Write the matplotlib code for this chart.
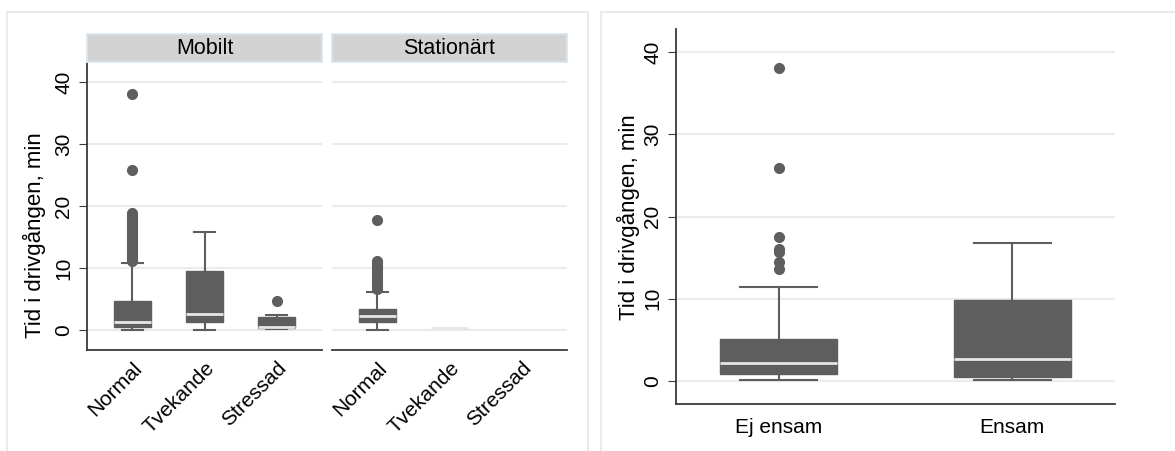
import matplotlib.pyplot as plt
from matplotlib.patches import Rectangle

plt.rcParams['font.family'] = ['Liberation Sans', 'DejaVu Sans']

# grupper i vänstra panelen
panels = ['Mobilt', 'Stationärt']
states = ['Normal', 'Tvekande', 'Stressad']

# (whislo, q1, med, q3, whishi) per grupp, None = inga observationer
mobilt_stats = [(0.0, 0.53, 1.34, 4.68, 10.85),
                (0.1, 1.24, 2.53, 9.57, 15.85),
                (0.2, 0.27, 0.53, 2.15, 2.4)]
mobilt_fliers = [[11.1, 11.4, 11.7, 12.0, 12.3, 12.6, 12.9, 13.2, 13.5, 13.8,
                  14.1, 14.4, 14.7, 15.0, 15.3, 15.6, 15.9, 16.2, 16.5, 16.8,
                  17.1, 17.4, 17.7, 18.0, 18.3, 18.6, 18.9, 25.8, 38.1],
                 [],
                 [4.68]]
stat_stats = [(0.1, 1.24, 2.3, 3.34, 6.2),
              (0.35, 0.35, 0.35, 0.35, 0.35),
              None]
stat_fliers = [[6.6, 6.9, 7.2, 7.5, 7.8, 8.1, 8.4, 8.7, 9.0, 9.3, 9.6, 9.9,
                10.2, 10.5, 10.8, 11.1, 17.7],
               [],
               []]

# högra panelen
alone = ['Ej ensam', 'Ensam']
alone_stats = [(0.12, 0.8, 2.22, 5.1, 11.45),
               (0.12, 0.52, 2.63, 9.84, 16.8)]
alone_fliers = [[13.6, 14.5, 15.7, 16.1, 17.5, 25.85, 38.1],
                []]

BOX = '#5e5e5e'
MED = '#e6e6e6'
GRID = '#ebebeb'
AX = '#3a3a3a'

W, H = 1175, 451
fig = plt.figure(figsize=(W / 100, H / 100), dpi=100)


def px(x0, y0, x1, y1):
    return [x0 / W, 1 - y1 / H, (x1 - x0) / W, (y1 - y0) / H]


# ramar runt de två graferna
fig.patches.append(Rectangle((7 / W, -0.01), 581 / W, 1 - 12 / H + 0.01,
                             transform=fig.transFigure, fill=False,
                             edgecolor='#e6e6e6', lw=1.2))
fig.patches.append(Rectangle((601 / W, -0.01), 580 / W, 1 - 12 / H + 0.01,
                             transform=fig.transFigure, fill=False,
                             edgecolor='#e6e6e6', lw=1.2))


def draw_boxes(ax, stats, fliers, width, capw):
    for i, (s, fl) in enumerate(zip(stats, fliers)):
        if s is None:
            continue
        lo, q1, med, q3, hi = s
        d = dict(whislo=lo, q1=q1, med=med, q3=q3, whishi=hi, fliers=fl)
        empty = q1 == q3
        ax.bxp([d], positions=[i + 1], widths=width, patch_artist=True,
               showcaps=not empty, capwidths=capw,
               boxprops=dict(facecolor=BOX, edgecolor=MED if empty else BOX, lw=1),
               medianprops=dict(color=MED, lw=2),
               whiskerprops=dict(color=BOX, lw=1.5),
               capprops=dict(color=BOX, lw=1.5),
               flierprops=dict(marker='o', markerfacecolor=BOX,
                               markeredgecolor=BOX, markersize=7))


def style(ax, left=True):
    ax.set_ylim(-3.2, 43.2)
    ax.set_yticks([0, 10, 20, 30, 40])
    ax.grid(axis='y', color=GRID, lw=1.5)
    ax.set_axisbelow(True)
    for sp in ['top', 'right']:
        ax.spines[sp].set_visible(False)
    ax.spines['bottom'].set_color(AX)
    ax.spines['bottom'].set_linewidth(1.3)
    ax.spines['left'].set_color(AX)
    ax.spines['left'].set_linewidth(1.3)
    ax.tick_params(axis='x', length=0, labelsize=15, pad=6)
    if left:
        ax.tick_params(axis='y', length=6, color=AX, labelsize=15, pad=4)
        for t in ax.get_yticklabels():
            t.set_rotation(90)
            t.set_va('center')
    else:
        ax.spines['left'].set_visible(False)
        ax.tick_params(axis='y', length=0, labelleft=False)


panel_x = [(87, 322), (332, 567)]
for k, (name, stats, fliers) in enumerate(zip(panels, [mobilt_stats, stat_stats],
                                             [mobilt_fliers, stat_fliers])):
    x0, x1 = panel_x[k]
    ax = fig.add_axes(px(x0, 62, x1, 350))
    draw_boxes(ax, stats, fliers, 0.51, 0.3)
    style(ax, left=(k == 0))
    ax.set_xlim(0.37, 3.63)
    ax.set_xticks([1, 2, 3])
    ax.set_xticklabels(states, rotation=45, ha='right', rotation_mode='anchor')
    if k == 0:
        ax.set_ylabel('Tid i drivgången, min', fontsize=16)
        ax.yaxis.set_label_coords(-0.175, 0.40)
    sax = fig.add_axes(px(x0, 34, x1, 62))
    sax.set_facecolor('#d3d3d3')
    sax.set_xticks([])
    sax.set_yticks([])
    for sp in sax.spines.values():
        sp.set_color('#d8e6ee')
        sp.set_linewidth(1.2)
    sax.text(0.5, 0.5, name, ha='center', va='center', fontsize=15.5,
             transform=sax.transAxes)

ax = fig.add_axes(px(676, 29, 1115, 404.3))
draw_boxes(ax, alone_stats, alone_fliers, 0.5, 0.33)
style(ax)
ax.tick_params(axis='x', pad=10)
ax.set_ylim(-2.83, 42.8)
ax.set_xlim(0.56, 2.44)
ax.set_xticks([1, 2])
ax.set_xticklabels(alone)
ax.set_ylabel('Tid i drivgången, min', fontsize=16, labelpad=2)

fig.savefig('out.png', dpi=100)
